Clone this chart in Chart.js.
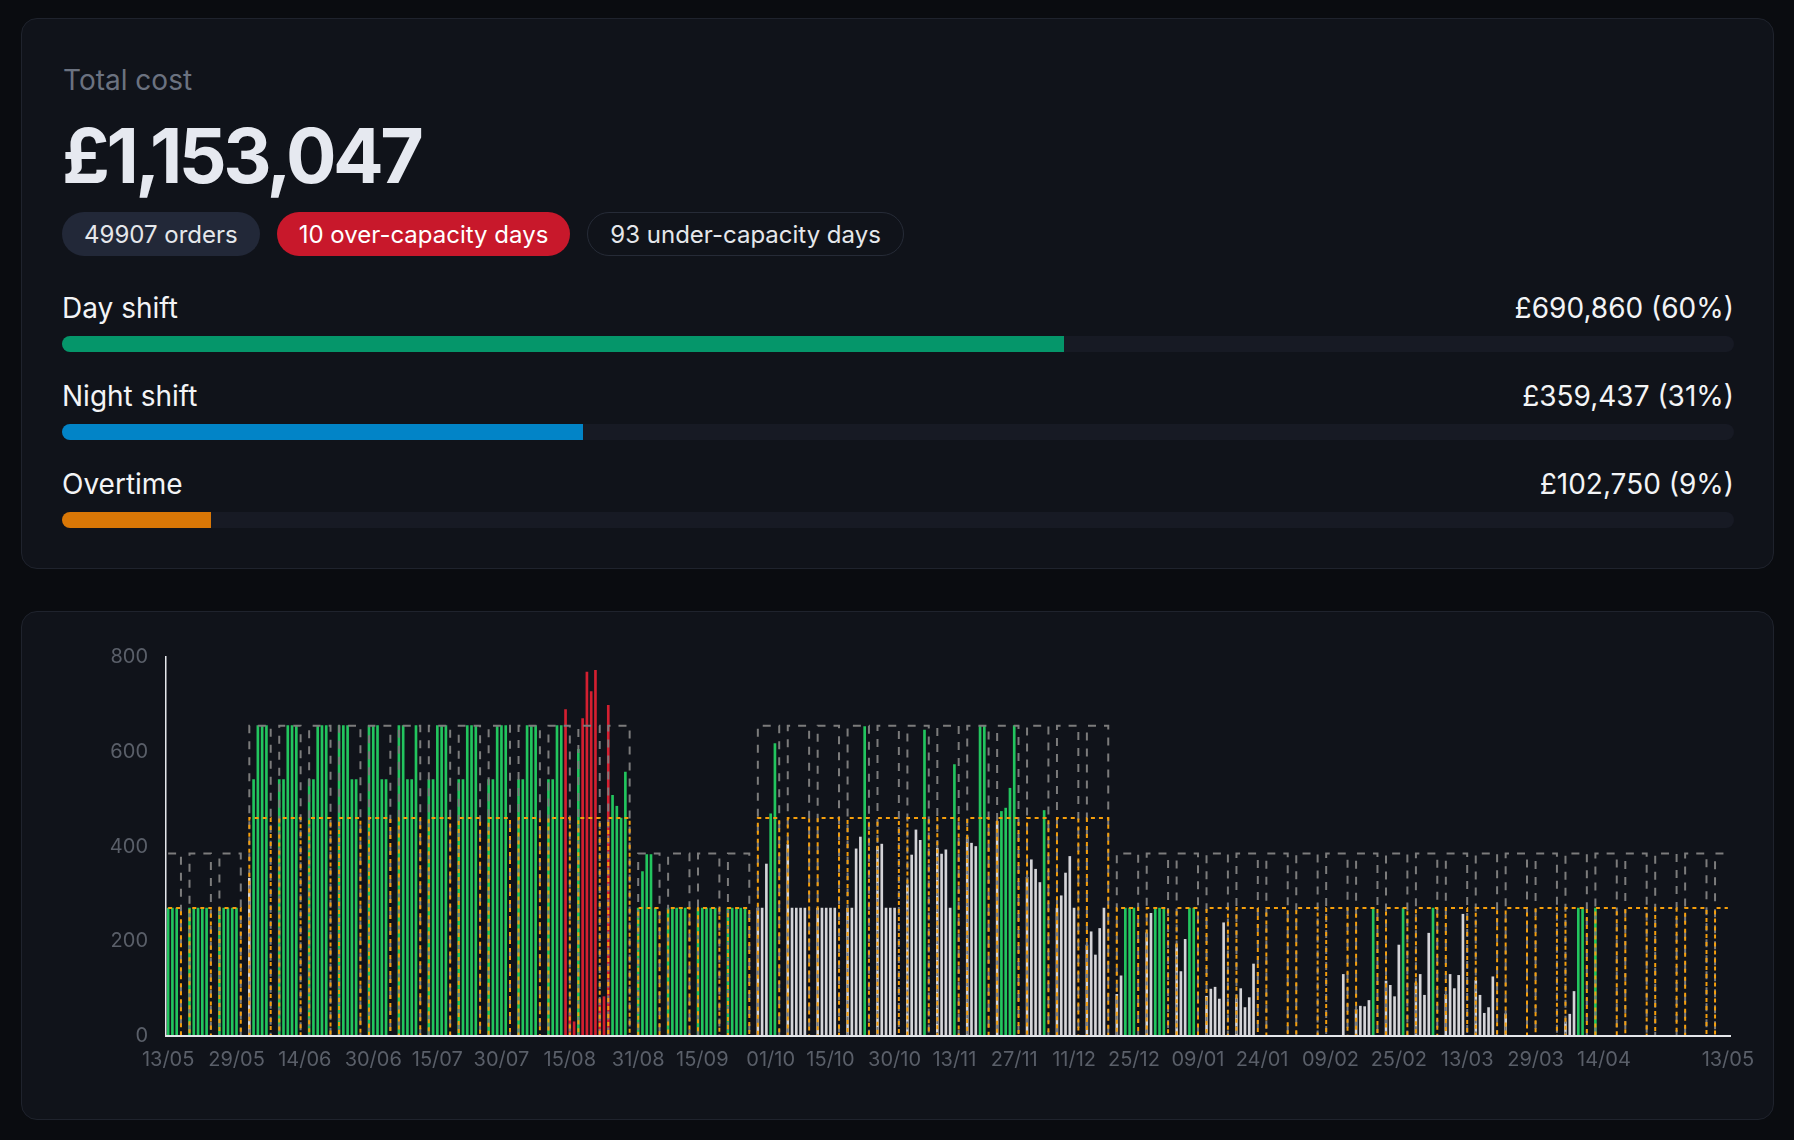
<!DOCTYPE html>
<html>
<head>
<meta charset="utf-8">
<script src="https://cdn.jsdelivr.net/npm/chart.js@4.4.1/dist/chart.umd.min.js"></script>
<style>
  html, body { margin: 0; background: #0a0c10; }
  body { width: 1794px; height: 1140px; position: relative; overflow: hidden;
         font-family: Inter, "Noto Sans", sans-serif; }
  .card { position: absolute; left: 21px; width: 1753px; box-sizing: border-box;
          background: #10131a; border: 1px solid #1f232d; border-radius: 16px; }
  #summary { top: 18px; height: 551px; }
  #chartCard { top: 611px; height: 509px; }
  .abs { position: absolute; line-height: 1; white-space: nowrap; }
  .muted { left: 41px; top: 47px; font-size: 28px; color: #6b7280; }
  .total { left: 40px; top: 99px; font-size: 75px; font-weight: 700; color: #e6e9f0; letter-spacing: -3.5px; }
  .pills { position: absolute; left: 40px; top: 193px; display: flex; gap: 17px; }
  .pill { height: 44px; box-sizing: border-box; padding: 0 22px; border-radius: 22px;
          display: flex; align-items: center; font-size: 24px; color: #e5e7eb; }
  .pill.orders { background: #222838; }
  .pill.over { background: #c8182b; color: #fff; }
  .pill.under { border: 1.5px solid #262b37; }
  .row-label { left: 40px; font-size: 28px; color: #f3f4f6; }
  .row-value { right: 39px; font-size: 28px; color: #f3f4f6; }
  .track { position: absolute; left: 40px; width: 1672px; height: 16px; border-radius: 8px;
           background: #171a24; overflow: hidden; }
  .fill { height: 100%; }
  #chartWrap { position: absolute; left: 0; top: 0; right: 0; bottom: 0; }
</style>
</head>
<body>
<div class="card" id="summary">
  <div class="abs muted">Total cost</div>
  <div class="abs total" id="total"></div>
  <div class="pills">
    <div class="pill orders" id="pillOrders"></div>
    <div class="pill over" id="pillOver"></div>
    <div class="pill under" id="pillUnder"></div>
  </div>
  <div id="rows"></div>
</div>
<div class="card" id="chartCard">
  <div id="chartWrap"><canvas id="loadChart"></canvas></div>
</div>

<script>
// Summary figures
const totalCost = 1153047;
const orderCount = 49907;
const overDays = 10;
const underDays = 93;
const shiftNames  = ['Day shift', 'Night shift', 'Overtime'];
const shiftCosts  = [690860, 359437, 102750];
const shiftColors = ['#05966a', '#0284c7', '#d97706'];

// Daily series, starting Wed 13/05 (one line per Mon-Sun week)
const startDate = Date.UTC(2026, 4, 13);
const orders = [
  270, 270, 270, 0, 0,
  270, 270, 270, 270, 270, 0, 0,
  270, 270, 270, 270, 270, 0, 0,
  333, 541, 655, 655, 655, 0, 0,
  541, 541, 655, 655, 655, 0, 0,
  541, 541, 655, 655, 655, 0, 0,
  655, 655, 655, 541, 541, 0, 0,
  655, 655, 655, 541, 541, 0, 0,
  655, 655, 541, 541, 655, 0, 0,
  541, 541, 655, 655, 655, 0, 0,
  541, 541, 655, 655, 655, 0, 0,
  541, 541, 655, 655, 655, 0, 0,
  541, 541, 655, 655, 655, 0, 0,
  541, 541, 655, 655, 689, 51, 30,
  605, 670, 768, 727, 772, 79, 83,
  698, 508, 485, 460, 557, 0, 0,
  270, 347, 383, 383, 270, 0, 0,
  270, 270, 270, 270, 270, 0, 0,
  270, 270, 270, 270, 270, 0, 0,
  270, 270, 270, 270, 270, 0, 0,
  270, 270, 363, 469, 617, 0, 0,
  404, 270, 270, 270, 270, 0, 0,
  270, 270, 270, 270, 270, 0, 0,
  270, 270, 395, 420, 653, 0, 0,
  400, 405, 270, 270, 270, 0, 0,
  319, 382, 435, 413, 646, 0, 0,
  396, 384, 393, 270, 573, 0, 0,
  420, 407, 400, 654, 655, 0, 0,
  453, 474, 481, 523, 655, 0, 0,
  335, 372, 352, 324, 476, 0, 0,
  270, 296, 344, 379, 270, 0, 0,
  192, 220, 171, 227, 270, 0, 0,
  88, 127, 270, 270, 270, 0, 0,
  218, 259, 270, 270, 270, 0, 0,
  193, 136, 204, 270, 270, 0, 0,
  84, 99, 103, 78, 239, 0, 0,
  80, 100, 60, 81, 152, 0, 0,
  0, 0, 0, 0, 0, 0, 0,
  0, 0, 0, 0, 0, 0, 0,
  0, 0, 0, 0, 130, 0, 0,
  56, 63, 62, 75, 270, 0, 0,
  116, 107, 83, 192, 270, 0, 0,
  112, 130, 86, 217, 270, 0, 0,
  88, 130, 100, 128, 257, 0, 0,
  117, 86, 48, 60, 125, 0, 0,
  47, 0, 0, 0, 0, 0, 0,
  0, 0, 0, 0, 0, 0, 0,
  30, 46, 94, 270, 270, 0, 0,
  270, 0, 0, 0, 0, 0, 0,
  0, 0, 0, 0, 0, 0, 0,
  0, 0, 0, 0, 0, 0, 0,
  0, 0, 0, 0, 0, 0, 0,
  0, 0, 0, 0
];

const baseCapacity = [
  270, 270, 270, 0, 0,
  270, 270, 270, 270, 270, 0, 0,
  270, 270, 270, 270, 270, 0, 0,
  460, 460, 460, 460, 460, 0, 0,
  460, 460, 460, 460, 460, 0, 0,
  460, 460, 460, 460, 460, 0, 0,
  460, 460, 460, 460, 460, 0, 0,
  460, 460, 460, 460, 460, 0, 0,
  460, 460, 460, 460, 460, 0, 0,
  460, 460, 460, 460, 460, 0, 0,
  460, 460, 460, 460, 460, 0, 0,
  460, 460, 460, 460, 460, 0, 0,
  460, 460, 460, 460, 460, 0, 0,
  460, 460, 460, 460, 460, 0, 0,
  460, 460, 460, 460, 460, 0, 0,
  460, 460, 460, 460, 460, 0, 0,
  270, 270, 270, 270, 270, 0, 0,
  270, 270, 270, 270, 270, 0, 0,
  270, 270, 270, 270, 270, 0, 0,
  270, 270, 270, 270, 270, 0, 0,
  460, 460, 460, 460, 460, 0, 0,
  460, 460, 460, 460, 460, 0, 0,
  460, 460, 460, 460, 460, 0, 0,
  460, 460, 460, 460, 460, 0, 0,
  460, 460, 460, 460, 460, 0, 0,
  460, 460, 460, 460, 460, 0, 0,
  460, 460, 460, 460, 460, 0, 0,
  460, 460, 460, 460, 460, 0, 0,
  460, 460, 460, 460, 460, 0, 0,
  460, 460, 460, 460, 460, 0, 0,
  460, 460, 460, 460, 460, 0, 0,
  460, 460, 460, 460, 460, 0, 0,
  270, 270, 270, 270, 270, 0, 0,
  270, 270, 270, 270, 270, 0, 0,
  270, 270, 270, 270, 270, 0, 0,
  270, 270, 270, 270, 270, 0, 0,
  270, 270, 270, 270, 270, 0, 0,
  270, 270, 270, 270, 270, 0, 0,
  270, 270, 270, 270, 270, 0, 0,
  270, 270, 270, 270, 270, 0, 0,
  270, 270, 270, 270, 270, 0, 0,
  270, 270, 270, 270, 270, 0, 0,
  270, 270, 270, 270, 270, 0, 0,
  270, 270, 270, 270, 270, 0, 0,
  270, 270, 270, 270, 270, 0, 0,
  270, 270, 270, 270, 270, 0, 0,
  270, 270, 270, 270, 270, 0, 0,
  270, 270, 270, 270, 270, 0, 0,
  270, 270, 270, 270, 270, 0, 0,
  270, 270, 270, 270, 270, 0, 0,
  270, 270, 270, 270, 270, 0, 0,
  270, 270, 270, 270, 270, 0, 0,
  270, 270, 270, 270
];

const maxCapacity = [
  385, 385, 385, 0, 0,
  385, 385, 385, 385, 385, 0, 0,
  385, 385, 385, 385, 385, 0, 0,
  655, 655, 655, 655, 655, 0, 0,
  655, 655, 655, 655, 655, 0, 0,
  655, 655, 655, 655, 655, 0, 0,
  655, 655, 655, 655, 655, 0, 0,
  655, 655, 655, 655, 655, 0, 0,
  655, 655, 655, 655, 655, 0, 0,
  655, 655, 655, 655, 655, 0, 0,
  655, 655, 655, 655, 655, 0, 0,
  655, 655, 655, 655, 655, 0, 0,
  655, 655, 655, 655, 655, 0, 0,
  655, 655, 655, 655, 655, 0, 0,
  655, 655, 655, 655, 655, 0, 0,
  655, 655, 655, 655, 655, 0, 0,
  385, 385, 385, 385, 385, 0, 0,
  385, 385, 385, 385, 385, 0, 0,
  385, 385, 385, 385, 385, 0, 0,
  385, 385, 385, 385, 385, 0, 0,
  655, 655, 655, 655, 655, 0, 0,
  655, 655, 655, 655, 655, 0, 0,
  655, 655, 655, 655, 655, 0, 0,
  655, 655, 655, 655, 655, 0, 0,
  655, 655, 655, 655, 655, 0, 0,
  655, 655, 655, 655, 655, 0, 0,
  655, 655, 655, 655, 655, 0, 0,
  655, 655, 655, 655, 655, 0, 0,
  655, 655, 655, 655, 655, 0, 0,
  655, 655, 655, 655, 655, 0, 0,
  655, 655, 655, 655, 655, 0, 0,
  655, 655, 655, 655, 655, 0, 0,
  385, 385, 385, 385, 385, 0, 0,
  385, 385, 385, 385, 385, 0, 0,
  385, 385, 385, 385, 385, 0, 0,
  385, 385, 385, 385, 385, 0, 0,
  385, 385, 385, 385, 385, 0, 0,
  385, 385, 385, 385, 385, 0, 0,
  385, 385, 385, 385, 385, 0, 0,
  385, 385, 385, 385, 385, 0, 0,
  385, 385, 385, 385, 385, 0, 0,
  385, 385, 385, 385, 385, 0, 0,
  385, 385, 385, 385, 385, 0, 0,
  385, 385, 385, 385, 385, 0, 0,
  385, 385, 385, 385, 385, 0, 0,
  385, 385, 385, 385, 385, 0, 0,
  385, 385, 385, 385, 385, 0, 0,
  385, 385, 385, 385, 385, 0, 0,
  385, 385, 385, 385, 385, 0, 0,
  385, 385, 385, 385, 385, 0, 0,
  385, 385, 385, 385, 385, 0, 0,
  385, 385, 385, 385, 385, 0, 0,
  385, 385, 385, 385
];

const xTickLabels = ['13/05','29/05','14/06','30/06','15/07','30/07','15/08','31/08','15/09',
  '01/10','15/10','30/10','13/11','27/11','11/12','25/12','09/01','24/01','09/02','25/02',
  '13/03','29/03','14/04','13/05'];
const yTicks = [0, 200, 400, 600, 800];

// Summary card
const gbp = n => '£' + n.toLocaleString('en-GB');
document.getElementById('total').textContent = gbp(totalCost);
document.getElementById('pillOrders').textContent = orderCount + ' orders';
document.getElementById('pillOver').textContent = overDays + ' over-capacity days';
document.getElementById('pillUnder').textContent = underDays + ' under-capacity days';

const rows = document.getElementById('rows');
shiftNames.forEach((name, i) => {
  const top = 275 + i * 88;
  const pct = shiftCosts[i] / totalCost * 100;
  rows.innerHTML +=
    `<div class="abs row-label" style="top:${top}px">${name}</div>` +
    `<div class="abs row-value" style="top:${top}px">${gbp(shiftCosts[i])} (${Math.round(pct)}%)</div>` +
    `<div class="track" style="top:${top + 42}px"><div class="fill" style="width:${pct}%;background:${shiftColors[i]}"></div></div>`;
});

// Chart
const pad2 = n => String(n).padStart(2, '0');
const dayLabels = orders.map((_, i) => {
  const d = new Date(startDate + i * 86400000);
  return pad2(d.getUTCDate()) + '/' + pad2(d.getUTCMonth() + 1);
});
let from = 0;
const tickIdx = xTickLabels.map(t => { const i = dayLabels.indexOf(t, from); from = i + 1; return i; });

const barColors = orders.map((v, i) => {
  if (v > maxCapacity[i]) return '#d41f30';
  if (v >= baseCapacity[i]) return '#22c55e';
  return '#d4d4d8';
});

const tickFont = { family: 'Inter', size: 20 };
const tickColor = '#5a5f69';

new Chart(document.getElementById('loadChart'), {
  type: 'bar',
  data: {
    labels: dayLabels,
    datasets: [
      { type: 'line', label: 'Base capacity', data: baseCapacity, stepped: true,
        borderColor: '#f59e0b', borderWidth: 2, borderDash: [4, 4], pointRadius: 0, fill: false, order: 0 },
      { type: 'line', label: 'Max capacity', data: maxCapacity, stepped: true,
        borderColor: '#7c7c7c', borderWidth: 2, borderDash: [8, 8], pointRadius: 0, fill: false, order: 1 },
      { type: 'bar', label: 'Orders', data: orders, backgroundColor: barColors,
        barThickness: 2, borderWidth: 0, order: 2 }
    ]
  },
  options: {
    responsive: true,
    maintainAspectRatio: false,
    animation: false,
    devicePixelRatio: 1,
    layout: { padding: { top: 45, right: 43, left: 0, bottom: 0 } },
    plugins: { legend: { display: false }, tooltip: { enabled: false } },
    scales: {
      x: {
        offset: true,
        grid: { display: false, drawTicks: false },
        border: { color: '#e5e7eb', width: 2, z: 1 },
        ticks: { autoSkip: false, maxRotation: 0, color: tickColor, font: tickFont, padding: 12 },
        afterBuildTicks: s => { s.ticks = tickIdx.map(v => ({ value: v })); },
        afterFit: s => { s.height = 83; }
      },
      y: {
        min: 0, max: 800,
        grid: { display: false, drawTicks: false },
        border: { color: '#e5e7eb', width: 1.5, z: 1 },
        ticks: { color: tickColor, font: tickFont, padding: 18 },
        afterBuildTicks: s => { s.ticks = yTicks.map(v => ({ value: v })); },
        afterFit: s => { s.width = 144; }
      }
    }
  }
});
</script>
</body>
</html>
